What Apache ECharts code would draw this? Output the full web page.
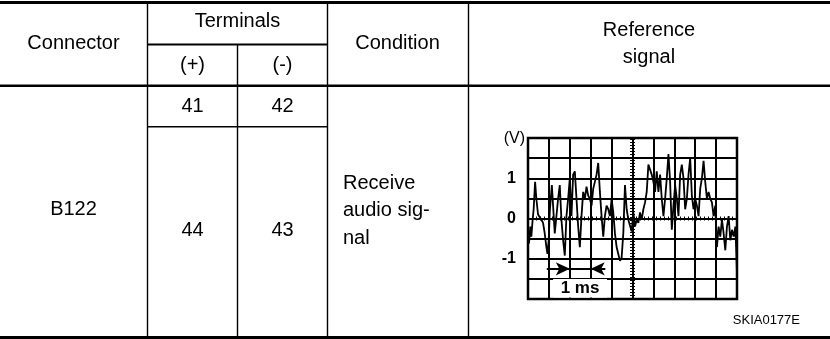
<!DOCTYPE html>
<html><head><meta charset="utf-8">
<script src="https://cdn.jsdelivr.net/npm/echarts@6/dist/echarts.min.js"></script>
<style>html,body{margin:0;padding:0;background:#fff}#c{width:830px;height:339px}</style>
</head><body><div id="c"></div>
<script>
// ---- data ----
var headerConnector = 'Connector';
var headerTerminals = 'Terminals';
var headerPlus = '(+)';
var headerMinus = '(-)';
var headerCondition = 'Condition';
var headerSignal = ['Reference', 'signal'];
var connector = 'B122';
var terminalsPlus = ['41', '44'];
var terminalsMinus = ['42', '43'];
var conditionLines = ['Receive', 'audio sig-', 'nal'];
var figureCode = 'SKIA0177E';
var yTickLabels = {'1': '1', '0': '0', '-1': '-1'};
var yUnit = '(V)';
var spanLabel = '1 ms';
var timeMs = [0.05,0.11,0.16,0.21,0.27,0.34,0.40,0.48,0.56,0.64,0.72,0.80,0.88,0.93,0.99,1.04,1.09,1.14,1.20,1.28,1.36,1.44,1.52,1.60,1.68,1.76,1.84,1.92,2.00,2.08,2.16,2.24,2.32,2.40,2.48,2.56,2.64,2.72,2.80,2.88,2.96,3.04,3.12,3.20,3.28,3.36,3.44,3.52,3.60,3.68,3.76,3.84,3.92,4.00,4.08,4.16,4.24,4.32,4.40,4.48,4.56,4.64,4.72,4.80,4.88,4.96,5.04,5.12,5.20,5.28,5.36,5.44,5.52,5.60,5.68,5.76,5.84,5.92,6.00,6.08,6.16,6.24,6.32,6.40,6.48,6.56,6.64,6.72,6.80,6.88,6.96,7.04,7.12,7.20,7.28,7.36,7.44,7.52,7.60,7.68,7.76,7.84,7.92,8.00,8.08,8.16,8.24,8.32,8.40,8.48,8.56,8.64,8.72,8.80,8.88,8.96,9.04,9.12,9.20,9.28,9.36,9.44,9.52,9.60,9.68,9.76,9.84,9.92,9.97,10.0];
var volts = [-0.62,-0.20,-0.45,-0.11,0.23,0.91,0.49,0.10,0.06,-0.03,-0.11,-0.37,-0.71,-0.88,-0.54,0.15,0.49,0.83,0.32,-0.37,0.06,0.49,0.83,-0.03,-0.54,-0.92,0.06,0.49,1.00,0.06,1.09,1.17,0.49,-0.20,-0.71,0.06,0.66,0.49,0.79,0.57,0.49,0.32,0.74,0.91,1.09,1.38,0.66,0.06,-0.45,0.06,0.32,0.23,0.06,0.49,0.15,-0.37,-0.71,-0.88,-1.05,-0.97,-0.37,0.83,0.23,-0.03,-0.03,-0.32,0.15,-0.20,-0.03,-0.11,0.15,-0.03,0.23,0.40,0.66,1.34,1.38,1.09,0.91,0.66,1.17,0.66,1.09,0.49,0.06,0.49,1.00,1.60,0.91,-0.28,0.32,0.83,0.49,0.06,1.09,1.34,1.00,0.23,0.49,1.09,1.51,0.57,0.23,0.49,0.32,0.06,0.74,1.00,1.43,0.91,0.49,0.66,0.49,0.40,0.06,0.32,-0.71,-0.20,-0.45,-0.03,-0.37,-0.79,-0.20,0.06,-0.54,-0.28,-0.45,-0.20,-0.88,-1.39];
var arrowLeft = [0.9, 2];
var arrowRight = [3.7, 3];
var arrowLevel = -1.25;
var spanBox = {x: [1.2, 3.78], y: [-1.5, -1.96]};

// ---- build ----
var FONT = 'Liberation Sans, Arial, Helvetica, sans-serif';
var signal = timeMs.map(function (t, i) { return [t, volts[i]]; });
function hline(x1, x2, y, w) {
  return {type: 'line', shape: {x1: x1, y1: y, x2: x2, y2: y}, style: {stroke: '#000', lineWidth: w}, silent: true};
}
function vline(x, y1, y2, w) {
  return {type: 'line', shape: {x1: x, y1: y1, x2: x, y2: y2}, style: {stroke: '#000', lineWidth: w}, silent: true};
}
function txt(s, x, y, align, size, weight) {
  return {type: 'text', x: x, y: y, style: {text: s, x: 0, y: 0, align: align || 'center', verticalAlign: 'middle',
    font: (weight || 'normal') + ' ' + (size || 20) + 'px ' + FONT, fill: '#000'}, silent: true};
}
var g = [
  hline(0, 830, 2.5, 3),
  hline(0, 830, 85.8, 2.6),
  hline(0, 830, 337.5, 3),
  hline(147.5, 327.5, 44.5, 2),
  hline(147.5, 327.5, 126.7, 1.4),
  vline(147.5, 3, 337, 1.4),
  vline(237.5, 44.5, 337, 1.4),
  vline(327.5, 3, 337, 1.4),
  vline(468.5, 3, 337, 1.4),
  txt(headerConnector, 73.5, 43),
  txt(headerTerminals, 237.5, 21),
  txt(headerPlus, 192.5, 65),
  txt(headerMinus, 282.5, 65),
  txt(headerCondition, 397.5, 43),
  txt(headerSignal[0], 649, 30),
  txt(headerSignal[1], 649, 57),
  txt(connector, 73.5, 209),
  txt(terminalsPlus[0], 192.5, 106),
  txt(terminalsMinus[0], 282.5, 106),
  txt(terminalsPlus[1], 192.5, 230),
  txt(terminalsMinus[1], 282.5, 230),
  txt(conditionLines[0], 343, 183, 'left'),
  txt(conditionLines[1], 343, 210, 'left'),
  txt(conditionLines[2], 343, 238, 'left'),
  txt(figureCode, 800, 320, 'right', 13),
  txt(yUnit, 525, 139, 'right', 16)
];

var chart = echarts.init(document.getElementById('c'), null, {renderer: 'canvas'});
chart.setOption({
  animation: false,
  backgroundColor: '#fff',
  graphic: g,
  grid: {left: 528, top: 138, width: 209, height: 161, show: true, borderColor: '#000', borderWidth: 2.5},
  xAxis: {type: 'value', min: 0, max: 10, interval: 1,
    axisLine: {show: false}, axisTick: {show: false}, axisLabel: {show: false},
    splitLine: {show: true, lineStyle: {color: '#000', width: 2}}},
  yAxis: {type: 'value', min: -2, max: 2, interval: 0.5,
    axisLine: {show: false}, axisTick: {show: false},
    axisLabel: {margin: 12, fontFamily: FONT, fontWeight: 'bold', fontSize: 16, color: '#000',
      formatter: function (v) { var k = String(v); return yTickLabels.hasOwnProperty(k) ? yTickLabels[k] : ''; }},
    splitLine: {show: true, lineStyle: {color: '#000', width: 2}}},
  series: [
    {type: 'line', data: [[5, -2], [5, 2]], symbol: 'none', silent: true, z: 3,
      lineStyle: {color: '#000', width: 5, type: [1, 2]}},
    {type: 'line', data: [[0, 0], [10, 0]], symbol: 'none', silent: true, z: 3,
      lineStyle: {color: '#000', width: 4, type: [1, 3]}},
    {type: 'line', data: signal, symbol: 'none', silent: true, z: 4,
      lineStyle: {color: '#000', width: 1.8}},
    {type: 'line', data: [], silent: true, z: 5,
      markArea: {silent: true, itemStyle: {color: '#fff', opacity: 1},
        label: {show: true, position: 'inside', formatter: spanLabel, fontFamily: FONT, fontWeight: 'bold', fontSize: 17, color: '#000'},
        data: [[{coord: [spanBox.x[0], spanBox.y[0]]}, {coord: [spanBox.x[1], spanBox.y[1]]}]]},
      markLine: {silent: true, symbol: ['none', 'arrow'], symbolSize: [10, 14], label: {show: false},
        lineStyle: {color: '#000', width: 2, type: 'solid'},
        data: [
          [{coord: [arrowLeft[0], arrowLevel]}, {coord: [arrowLeft[1], arrowLevel]}],
          [{coord: [arrowRight[0], arrowLevel]}, {coord: [arrowRight[1], arrowLevel]}],
          [{coord: [arrowLeft[1], arrowLevel], symbol: 'none'}, {coord: [arrowRight[1], arrowLevel], symbol: 'none'}]
        ]}}
  ]
});
</script></body></html>
